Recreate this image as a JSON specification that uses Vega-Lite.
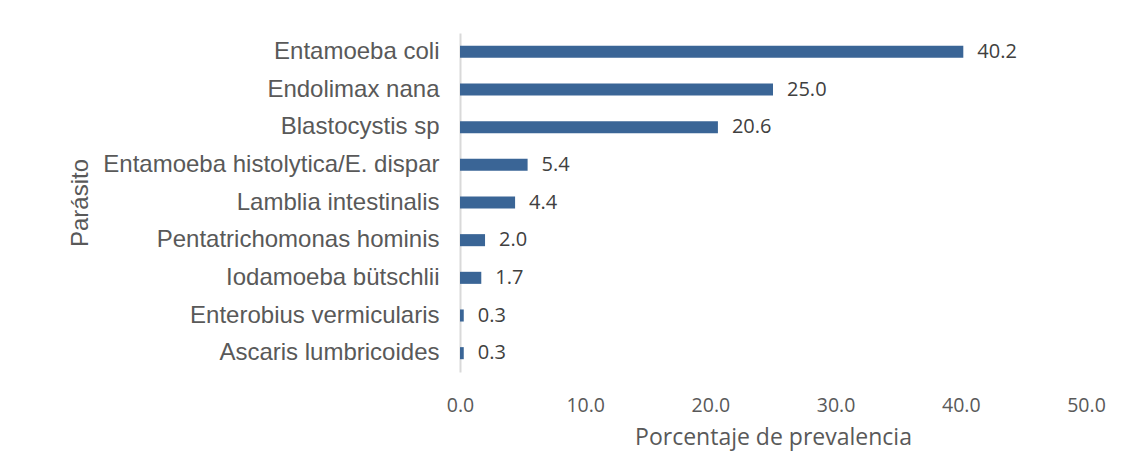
{
  "$schema": "https://vega.github.io/schema/vega-lite/v6.json",
  "width": 626,
  "height": 339,
  "autosize": {"type": "none"},
  "padding": {"left": 460, "top": 33, "right": 52, "bottom": 92},
  "background": "white",
  "data": {"values": [
    {"parasito": "Entamoeba coli", "pct": 40.2},
    {"parasito": "Endolimax nana", "pct": 25.0},
    {"parasito": "Blastocystis sp", "pct": 20.6},
    {"parasito": "Entamoeba histolytica/E. dispar", "pct": 5.4},
    {"parasito": "Lamblia intestinalis", "pct": 4.4},
    {"parasito": "Pentatrichomonas hominis", "pct": 2.0},
    {"parasito": "Iodamoeba bütschlii", "pct": 1.7},
    {"parasito": "Enterobius vermicularis", "pct": 0.3},
    {"parasito": "Ascaris lumbricoides", "pct": 0.3}
  ]},
  "encoding": {
    "y": {
      "field": "parasito", "type": "nominal", "sort": null,
      "scale": {"paddingInner": 0.68, "paddingOuter": 0.34},
      "axis": {
        "title": "Parásito", "titleFont": "Liberation Sans", "titleFontSize": 24, "titleFontWeight": "normal",
        "titleColor": "#595959", "titleX": -368, "titlePadding": 10,
        "labelFont": "Liberation Sans", "labelFontSize": 24, "labelColor": "#595959", "labelPadding": 21,
        "ticks": false, "domainColor": "#d9d9d9", "domainWidth": 2, "labelLimit": 450
      }
    },
    "x": {
      "field": "pct", "type": "quantitative",
      "scale": {"domain": [0, 50]},
      "axis": {
        "title": "Porcentaje de prevalencia", "titleFont": "Open Sans", "titleFontSize": 23, "titleFontWeight": "normal",
        "titleColor": "#595959", "titlePadding": 12,
        "labelFont": "Open Sans", "labelFontSize": 19.5, "labelColor": "#595959", "labelPadding": 24, "labelFlush": false,
        "values": [0, 10, 20, 30, 40, 50], "format": ".1f",
        "ticks": false, "domain": false, "grid": false
      }
    }
  },
  "layer": [
    {"mark": {"type": "bar", "color": "#3a6596"}},
    {
      "mark": {"type": "text", "align": "left", "baseline": "middle", "dx": 14, "font": "Open Sans", "fontSize": 20, "color": "#404040"},
      "encoding": {"text": {"field": "pct", "type": "quantitative", "format": ".1f"}}
    }
  ],
  "config": {"view": {"stroke": null}}
}
